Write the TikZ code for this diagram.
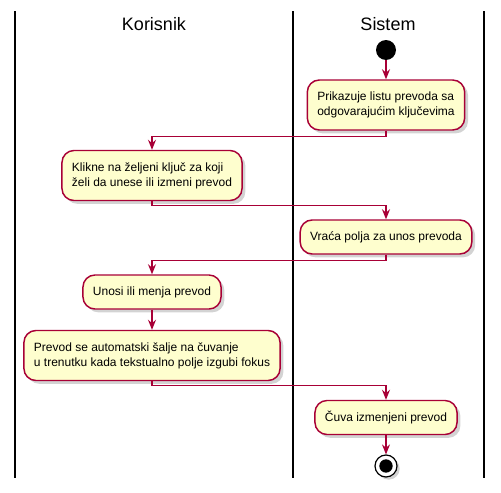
\documentclass[tikz,border=0pt]{standalone}
\usepackage{fontspec}
\setmainfont{Liberation Sans}
\usetikzlibrary{arrows.meta,shadows}
\definecolor{actfill}{HTML}{FEFECE}
\definecolor{actline}{HTML}{A80036}

\begin{document}
\begin{tikzpicture}[x=0.75pt,y=-0.75pt,
    activity/.style={draw=actline,fill=actfill,line width=1.1pt,rounded corners=9pt,
        align=left,font=\fontsize{9}{11.2}\selectfont,inner xsep=7.5pt,
        drop shadow={shadow xshift=2.5pt,shadow yshift=-2.5pt,opacity=0.35}},
    oneline/.style={activity,minimum height=25.5pt},
    twoline/.style={activity,minimum height=37.5pt},
    flow/.style={draw=actline,line width=0.9pt,-{Stealth[length=7.5pt,width=6pt,inset=2.5pt]}},
    lane/.style={line width=1.1pt},
    lanetitle/.style={font=\fontsize{13.5}{15}\selectfont}]
    \useasboundingbox (0,0) rectangle (501,493);
    \draw[lane] (15,11) -- (15,478);
    \draw[lane] (293,11) -- (293,478);
    \draw[lane] (484,11) -- (484,478);
    \node[lanetitle] (korisnik) at (154,24) {Korisnik};
    \node[lanetitle] (sistem) at (388,24) {Sistem};
    \node[circle,fill=black,minimum size=15pt,inner sep=0pt] (start) at (386,50) {};
    \node[twoline] (prikaz) at (386,105) {Prikazuje listu prevoda sa\\odgovarajućim ključevima};
    \node[twoline] (klik) at (152,175.5) {Klikne na željeni ključ za koji\\želi da unese ili izmeni prevod};
    \node[oneline] (polja) at (386,237) {Vraća polja za unos prevoda};
    \node[oneline] (unos) at (152,292) {Unosi ili menja prevod};
    \node[twoline] (salje) at (152,355.5) {Prevod se automatski šalje na čuvanje\\u trenutku kada tekstualno polje izgubi fokus};
    \node[oneline] (cuva) at (386,417.5) {Čuva izmenjeni prevod};
    \node[circle,draw=black,fill=white,line width=0.9pt,minimum size=16.5pt,inner sep=0pt,
        drop shadow={shadow xshift=2pt,shadow yshift=-2pt,opacity=0.35}] (stop) at (386,466) {};
    \fill (stop.center) circle (5pt);
    \draw[flow] (start) -- (prikaz);
    \draw[flow] (prikaz.south) -- ++(0,6) -| (klik.north);
    \draw[flow] (klik.south) -- ++(0,4) -| (polja.north);
    \draw[flow] (polja.south) -- ++(0,6) -| (unos.north);
    \draw[flow] (unos) -- (salje);
    \draw[flow] (salje.south) -- ++(0,4) -| (cuva.north);
    \draw[flow] (cuva) -- (stop);
\end{tikzpicture}
\end{document}
